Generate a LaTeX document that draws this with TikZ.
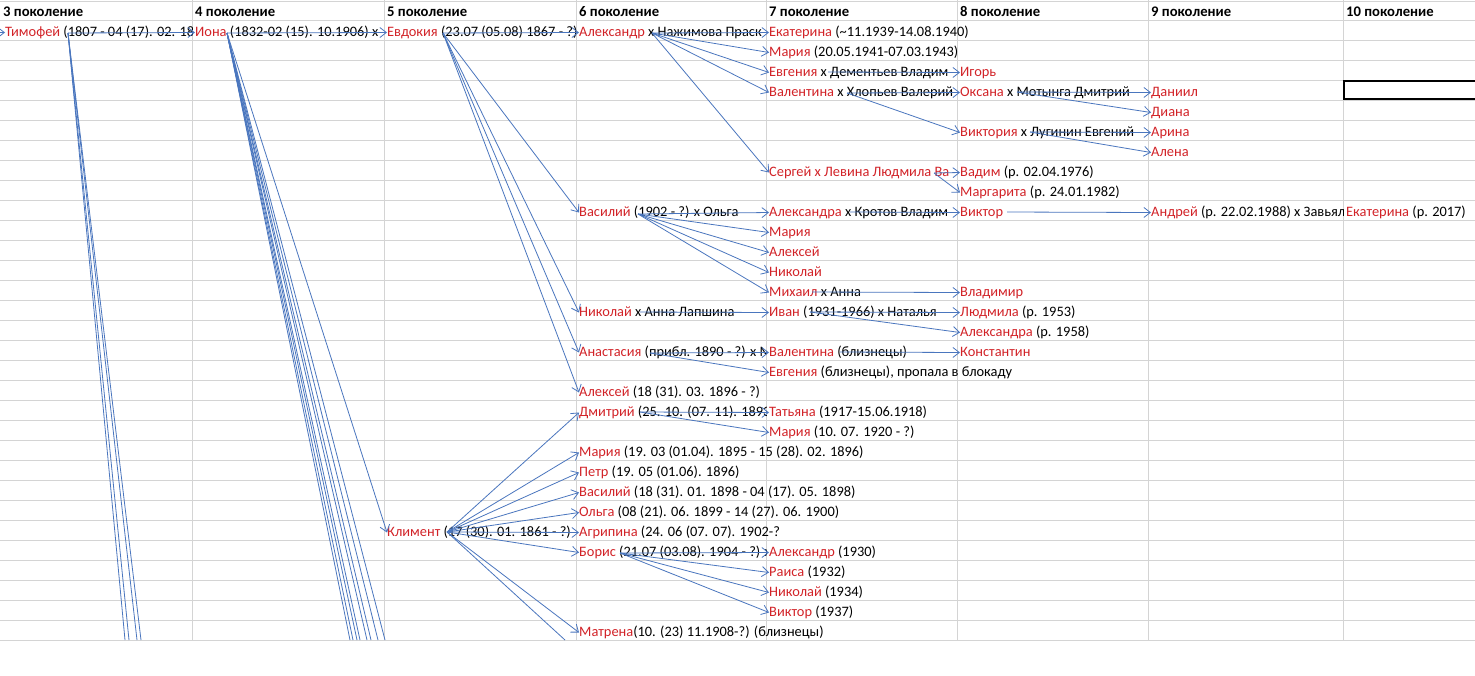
\documentclass[tikz,border=0pt]{standalone}
\usepackage{fontspec}
\setmainfont{Carlito}
\usetikzlibrary{arrows.meta,calc}
\definecolor{gridc}{RGB}{212,212,212}
\definecolor{arr}{RGB}{74,118,190}
\definecolor{nm}{RGB}{210,35,40}
\newcommand\nm[1]{\textcolor{nm}{#1}}
\begin{document}
\begin{tikzpicture}[x=1pt,y=-1pt,
  cell/.style={anchor=base west,inner sep=0pt,text height=10.5pt,text depth=3.5pt,font=\fontsize{14.4}{17}\selectfont},
  hdr/.style={anchor=base west,inner sep=0pt,font=\fontsize{14.67}{17}\selectfont\bfseries},
  link/.style={draw=arr,line width=0.8pt,-{Straight Barb[length=6.5pt,width=10pt,line width=0.8pt]}},
  trail/.style={draw=arr,line width=0.8pt},
]
\useasboundingbox (0,0) rectangle (1475,675);
\fill[white] (0,0) rectangle (1475,675);
% grid
\foreach \y in {1,20,40,...,640} \draw[gridc,line width=1pt] (0,\y) -- (1475,\y);
\foreach \x in {192,384,576,766,957,1148,1343} \draw[gridc,line width=1pt] (\x,0) -- (\x,640);
% selected cell
\draw[black,line width=2.5pt] (1344,81) rectangle (1480,99);
% headers
\node[hdr] (h3) at (3,16.5) {3 поколение};
\node[hdr] (h4) at (195,16.5) {4 поколение};
\node[hdr] (h5) at (387,16.5) {5 поколение};
\node[hdr] (h6) at (579,16.5) {6 поколение};
\node[hdr] (h7) at (769,16.5) {7 поколение};
\node[hdr] (h8) at (960,16.5) {8 поколение};
\node[hdr] (h9) at (1151,16.5) {9 поколение};
\node[hdr] (h10) at (1346,16.5) {10 поколение};
% row 1
\begin{scope}\clip (0,20) rectangle (192,40);
\node[cell] (a1) at (5,36) {\nm{Тимофей} (1807 - 04 (17). 02. 18};\end{scope}
\begin{scope}\clip (192,20) rectangle (384,40);
\node[cell] (b1) at (195,36) {\nm{Иона} (1832-02 (15). 10.1906) х};\end{scope}
\node[cell] (c1) at (387,36) {\nm{Евдокия} (23.07 (05.08) 1867 - ?)};
\begin{scope}\clip (576,20) rectangle (766,40);
\node[cell] (d1) at (579,36) {\nm{Александр} х Нажимова Праск};\end{scope}
\node[cell] (e1) at (769,36) {\nm{Екатерина} (\textasciitilde 11.1939-14.08.1940)};
% rows 2-9
\node[cell] (e2) at (769,56) {\nm{Мария} (20.05.1941-07.03.1943)};
\begin{scope}\clip (766,60) rectangle (957,80);
\node[cell] (e3) at (769,76) {\nm{Евгения} х Дементьев Владим};\end{scope}
\node[cell] (f3) at (960,76) {\nm{Игорь}};
\begin{scope}\clip (766,80) rectangle (957,100);
\node[cell] (e4) at (769,96) {\nm{Валентина} х Хлопьев Валерий};\end{scope}
\node[cell] (f4) at (960,96) {\nm{Оксана} х Мотынга Дмитрий};
\node[cell] (g4) at (1151,96) {\nm{Даниил}};
\node[cell] (g5) at (1151,116) {\nm{Диана}};
\node[cell] (f6) at (960,136) {\nm{Виктория} х Лугинин Евгений};
\node[cell] (g6) at (1151,136) {\nm{Арина}};
\node[cell] (g7) at (1151,156) {\nm{Алена}};
\begin{scope}\clip (766,160) rectangle (957,180);
\node[cell] (e8) at (769,176) {\nm{Сергей х Левина Людмила Ва}};\end{scope}
\node[cell] (f8) at (960,176) {\nm{Вадим} (р. 02.04.1976)};
\node[cell] (f9) at (960,196) {\nm{Маргарита} (р. 24.01.1982)};
% row 10
\node[cell] (d10) at (579,216) {\nm{Василий} (1902 - ?) х Ольга};
\begin{scope}\clip (766,200) rectangle (957,220);
\node[cell] (e10) at (769,216) {\nm{Александра} х Кротов Владим};\end{scope}
\node[cell] (f10) at (960,216) {\nm{Виктор}};
\begin{scope}\clip (1148,200) rectangle (1343,220);
\node[cell] (g10) at (1151,216) {\nm{Андрей} (р. 22.02.1988) х Завьял};\end{scope}
\node[cell] (h10) at (1346,216) {\nm{Екатерина} (р. 2017)};
% rows 11-19
\node[cell] (e11) at (769,236) {\nm{Мария}};
\node[cell] (e12) at (769,256) {\nm{Алексей}};
\node[cell] (e13) at (769,276) {\nm{Николай}};
\node[cell] (e14) at (769,296) {\nm{Михаил} х Анна};
\node[cell] (f14) at (960,296) {\nm{Владимир}};
\node[cell] (d15) at (579,316) {\nm{Николай} х Анна Лапшина};
\node[cell] (e15) at (769,316) {\nm{Иван} (1931-1966) х Наталья};
\node[cell] (f15) at (960,316) {\nm{Людмила} (р. 1953)};
\node[cell] (f16) at (960,336) {\nm{Александра} (р. 1958)};
\begin{scope}\clip (576,340) rectangle (766,360);
\node[cell] (d17) at (579,356) {\nm{Анастасия} (прибл. 1890 - ?) х М};\end{scope}
\node[cell] (e17) at (769,356) {\nm{Валентина} (близнецы)};
\node[cell] (f17) at (960,356) {\nm{Константин}};
\node[cell] (e18) at (769,376) {\nm{Евгения} (близнецы), пропала в блокаду};
\node[cell] (d19) at (579,396) {\nm{Алексей} (18 (31). 03. 1896 - ?)};
% rows 20-31
\begin{scope}\clip (576,400) rectangle (766,420);
\node[cell] (d20) at (579,416) {\nm{Дмитрий} (25. 10. (07. 11). 1893};\end{scope}
\node[cell] (e20) at (769,416) {\nm{Татьяна} (1917-15.06.1918)};
\node[cell] (e21) at (769,436) {\nm{Мария} (10. 07. 1920 - ?)};
\node[cell] (d22) at (579,456) {\nm{Мария} (19. 03 (01.04). 1895 - 15 (28). 02. 1896)};
\node[cell] (d23) at (579,476) {\nm{Петр} (19. 05 (01.06). 1896)};
\node[cell] (d24) at (579,496) {\nm{Василий} (18 (31). 01. 1898 - 04 (17). 05. 1898)};
\node[cell] (d25) at (579,516) {\nm{Ольга} (08 (21). 06. 1899 - 14 (27). 06. 1900)};
\begin{scope}\clip (384,520) rectangle (576,540);
\node[cell] (c26) at (387,536) {\nm{Климент} (17 (30). 01. 1861 - ?)};\end{scope}
\node[cell] (d26) at (579,536) {\nm{Агрипина} (24. 06 (07. 07). 1902-?};
\begin{scope}\clip (576,540) rectangle (766,560);
\node[cell] (d27) at (579,556) {\nm{Борис} (21.07 (03.08). 1904 - ?) х};\end{scope}
\node[cell] (e27) at (769,556) {\nm{Александр} (1930)};
\node[cell] (e28) at (769,576) {\nm{Раиса} (1932)};
\node[cell] (e29) at (769,596) {\nm{Николай} (1934)};
\node[cell] (e30) at (769,616) {\nm{Виктор} (1937)};
\node[cell] (d31) at (579,636) {\nm{Матрена}(10. (23) 11.1908-?) (близнецы)};
% source points of the arrows
\coordinate (lft) at (-12,32.5);
\coordinate (sTim) at (68,33);
\coordinate (sIona) at (227,33);
\coordinate (sEvd) at (443,33);
\coordinate (sAlex) at (652,33);
\coordinate (sEvg) at (828,72);
\coordinate (sVal) at (847,93);
\coordinate (sOks) at (1017,92);
\coordinate (sVik) at (1030,132);
\coordinate (sSer) at (934,173);
\coordinate (sVas) at (638,214);
\coordinate (sAlx) at (850,212);
\coordinate (sVkt) at (1007,212);
\coordinate (sMih) at (812,292);
\coordinate (sNik) at (640,312);
\coordinate (sIvn) at (810,312);
\coordinate (sAns) at (650,353);
\coordinate (sVl2) at (840,352);
\coordinate (sDm) at (640,412);
\coordinate (sKl) at (447,532);
\coordinate (sBor) at (620,553);
% loose ends at the bottom edge of the sheet
\foreach \n/\x in {t1/125,t2/129,t3/137,t4/141,i1/350,i2/353,i3/357,i4/360,i5/367,i6/371,i7/378,i8/385,k1/565}
  \coordinate (\n) at (\x,640);
% arrows
\draw[link] (lft) -- (a1.west);
\draw[link] (sTim) -- (b1.west);
\foreach \n in {t1,t2,t3,t4} \draw[trail] (sTim) -- (\n);
\draw[link] (sIona) -- (c1.west);
\draw[link] (sIona) -- (c26.west);
\foreach \n in {i1,i2,i3,i4,i5,i6,i7,i8} \draw[trail] (sIona) -- (\n);
\foreach \n in {d1,d10,d15,d17,d19} \draw[link] (sEvd) -- (\n.west);
\foreach \n in {e1,e2,e3,e4,e8} \draw[link] (sAlex) -- (\n.west);
\draw[link] (sEvg) -- (f3.west);
\foreach \n in {f4,f6} \draw[link] (sVal) -- (\n.west);
\foreach \n in {g4,g5} \draw[link] (sOks) -- (\n.west);
\foreach \n in {g6,g7} \draw[link] (sVik) -- (\n.west);
\foreach \n in {f8,f9} \draw[link] (sSer) -- (\n.west);
\foreach \n in {e10,e11,e12,e13,e14} \draw[link] (sVas) -- (\n.west);
\draw[link] (sAlx) -- (f10.west);
\draw[link] (sVkt) -- (g10.west);
\draw[link] (sMih) -- (f14.west);
\draw[link] (sNik) -- (e15.west);
\foreach \n in {f15,f16} \draw[link] (sIvn) -- (\n.west);
\foreach \n in {e17,e18} \draw[link] (sAns) -- (\n.west);
\draw[link] (sVl2) -- (f17.west);
\foreach \n in {e20,e21} \draw[link] (sDm) -- (\n.west);
\foreach \n in {d20,d22,d23,d24,d25,d26,d27,d31} \draw[link] (sKl) -- (\n.west);
\draw[trail] (sKl) -- (k1);
\foreach \n in {e27,e28,e29,e30} \draw[link] (sBor) -- (\n.west);
\end{tikzpicture}
\end{document}
